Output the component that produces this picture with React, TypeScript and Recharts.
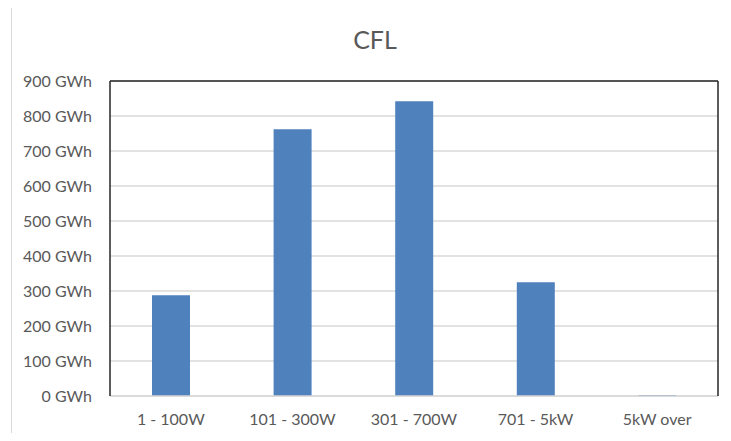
import React from "react";
import { BarChart, Bar, XAxis, YAxis, CartesianGrid } from "recharts";

const categories = ["1 - 100W", "101 - 300W", "301 - 700W", "701 - 5kW", "5kW over"];
const values = [288, 762, 842, 325, 3];
const yTicks = [0, 100, 200, 300, 400, 500, 600, 700, 800, 900];

const data = categories.map((c, i) => ({ name: c, value: values[i] }));

const FONT = "Lato, 'Open Sans', sans-serif";
const TEXT = "#595959";

export default function App() {
  return (
    <div style={{ position: "relative", width: 731, height: 441, margin: -8, overflow: "hidden", background: "#fff" }}>
      <div
        style={{
          position: "absolute",
          left: 11,
          top: 5,
          width: 760,
          height: 480,
          border: "1px solid #d9d9d9",
          boxSizing: "border-box",
        }}
      />
      <div
        style={{
          position: "absolute",
          left: 0,
          width: 750,
          top: 24,
          textAlign: "center",
          fontFamily: FONT,
          fontSize: 25,
          color: TEXT,
          lineHeight: "30px",
        }}
      >
        CFL
      </div>
      <div style={{ position: "absolute", left: 0, top: 0 }}>
        <BarChart
          width={731}
          height={441}
          data={data}
          margin={{ top: 80, right: 12, bottom: 0, left: 0 }}
          barSize={38}
        >
          <CartesianGrid vertical={false} stroke="#d9d9d9" strokeWidth={1.5} />
          <XAxis
            dataKey="name"
            axisLine={{ stroke: "#d9d9d9", strokeWidth: 1.5 }}
            tickLine={false}
            tickSize={0}
            tickMargin={18}
            height={45}
            interval={0}
            tick={{ fill: TEXT, fontFamily: FONT, fontSize: 16 }}
          />
          <XAxis
            xAxisId="top"
            dataKey="name"
            orientation="top"
            height={1}
            tick={false}
            tickLine={false}
            axisLine={{ stroke: "#262626", strokeWidth: 1.5 }}
          />
          <YAxis
            domain={[0, 900]}
            ticks={yTicks}
            width={110}
            tickFormatter={(v) => `${v} GWh`}
            axisLine={{ stroke: "#262626", strokeWidth: 1.5 }}
            tickLine={false}
            tickSize={0}
            tickMargin={18}
            interval={0}
            tick={{ fill: TEXT, fontFamily: FONT, fontSize: 16 }}
          />
          <YAxis
            yAxisId="right"
            orientation="right"
            domain={[0, 900]}
            width={1}
            tick={false}
            tickLine={false}
            axisLine={{ stroke: "#262626", strokeWidth: 1.5 }}
          />
          <Bar dataKey="value" fill="#4f81bd" isAnimationActive={false} />
        </BarChart>
      </div>
    </div>
  );
}
